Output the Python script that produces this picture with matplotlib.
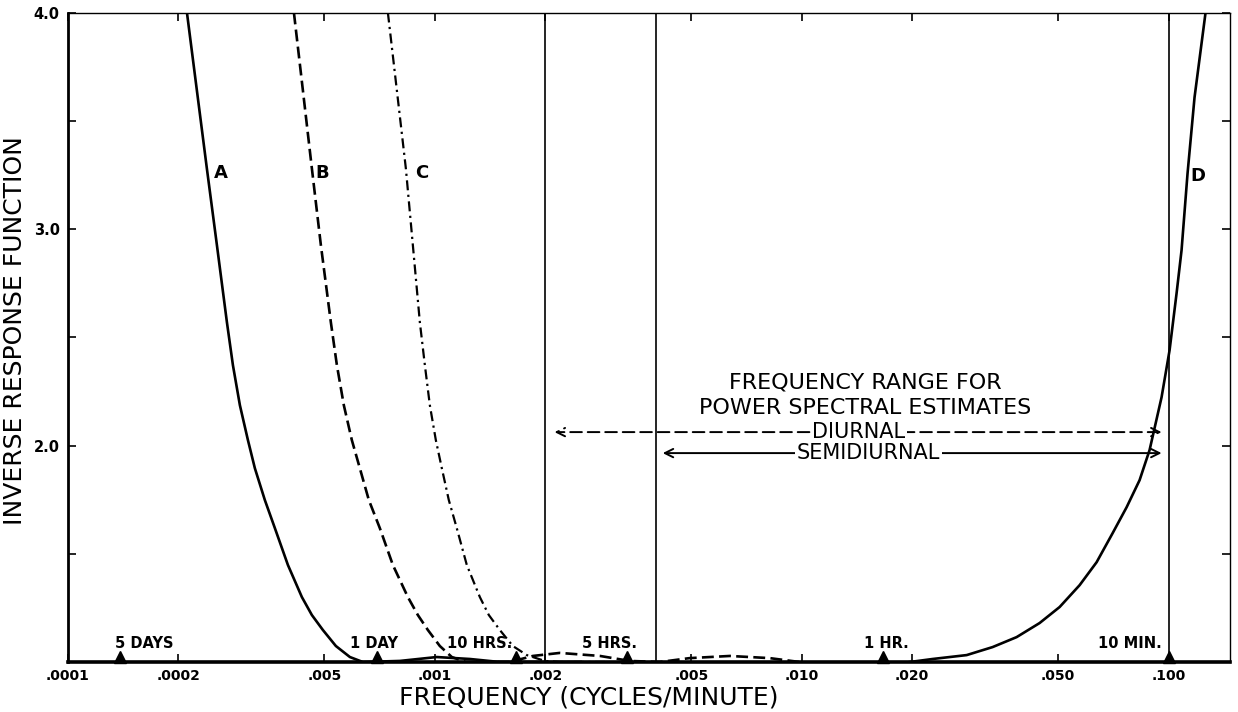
import matplotlib
matplotlib.use("Agg")
import matplotlib.pyplot as plt

# curve A (solid)
a_freq = [2.110e-4, 2.246e-4, 2.391e-4, 2.547e-4, 2.712e-4, 2.816e-4, 2.942e-4, 3.094e-4,
          3.232e-4, 3.441e-4, 3.665e-4, 3.977e-4, 4.341e-4, 4.622e-4, 4.952e-4, 5.373e-4,
          5.868e-4, 6.366e-4, 8.03e-4, 1.012e-3, 1.246e-3, 1.504e-3, 2.5e-3]
a_val = [4.000, 3.640, 3.280, 2.925, 2.569, 2.371, 2.186, 2.025,
         1.895, 1.748, 1.618, 1.448, 1.300, 1.217, 1.148, 1.074,
         1.023, 1.000, 1.005, 1.023, 1.014, 1.000, 1.000]

# curve B (dashed)
b_freq = [4.129e-4, 4.369e-4, 4.622e-4, 4.891e-4, 5.207e-4, 5.408e-4, 5.649e-4, 5.940e-4,
          6.246e-4, 6.609e-4, 7.082e-4, 7.685e-4, 8.443e-4, 8.989e-4, 9.571e-4, 1.0318e-3,
          1.1125e-3, 1.2147e-3, 1.60e-3, 1.85e-3, 2.19e-3, 2.82e-3, 3.4e-3, 4.1e-3,
          4.95e-3, 6.37e-3, 8.18e-3, 9.88e-3]
b_val = [4.000, 3.640, 3.280, 2.925, 2.569, 2.371, 2.186, 2.025,
         1.895, 1.748, 1.618, 1.448, 1.300, 1.217, 1.148, 1.074,
         1.023, 1.000, 1.000, 1.028, 1.042, 1.028, 1.005, 1.000,
         1.018, 1.028, 1.018, 1.000]

# curve C (dash-dot)
c_freq = [7.447e-4, 7.880e-4, 8.337e-4, 8.712e-4, 9.103e-4, 9.394e-4, 9.692e-4, 1.0063e-3,
          1.0449e-3, 1.0917e-3, 1.1478e-3, 1.2223e-3, 1.3265e-3, 1.4034e-3, 1.5035e-3,
          1.6315e-3, 1.7810e-3, 1.9940e-3, 2.1910e-3, 3.0e-3]
c_val = [4.000, 3.640, 3.280, 2.925, 2.569, 2.371, 2.186, 2.025,
         1.895, 1.748, 1.618, 1.448, 1.300, 1.217, 1.148,
         1.074, 1.032, 1.005, 1.000, 1.000]

# curve D (solid, high frequency side)
d_freq = [0.01970, 0.02275, 0.02816, 0.03314, 0.03853, 0.04451, 0.05047, 0.05722,
          0.06366, 0.07038, 0.07685, 0.08337, 0.08876, 0.09570, 0.10063, 0.10515,
          0.10849, 0.11265, 0.11770, 0.12613]
d_val = [1.000, 1.014, 1.032, 1.069, 1.115, 1.180, 1.254, 1.355,
         1.461, 1.595, 1.715, 1.840, 1.979, 2.223, 2.440, 2.703,
         2.902, 3.257, 3.608, 4.000]

# periods marked on the frequency axis
event_names = ["5 DAYS", "1 DAY", "10 HRS.", "5 HRS.", "1 HR.", "10 MIN."]
event_freq = [1 / 7200, 1 / 1440, 1 / 600, 1 / 300, 1 / 60, 1 / 10]

# band limits
band_lines = [0.002, 0.004, 0.1]
diurnal_range = [0.00212, 0.0957]
semidiurnal_range = [0.00418, 0.0957]

xticks = [0.0001, 0.0002, 0.0005, 0.001, 0.002, 0.005, 0.01, 0.02, 0.05, 0.1]
xtick_labels = [".0001", ".0002", ".005", ".001", ".002", ".005", ".010", ".020", ".050", ".100"]
yticks = [1.5, 2.0, 2.5, 3.0, 3.5, 4.0]
ytick_labels = ["", "2.0", "", "3.0", "", "4.0"]

plt.rcParams['font.family'] = ['DejaVu Sans']

fig = plt.figure(figsize=(12.38, 7.12), dpi=100)
ax = fig.add_axes([0.0549, 0.0702, 0.9386, 0.9122])

ax.set_xscale('log')
ax.set_xlim(0.0001, 0.147)
ax.set_ylim(1.0, 4.0)

ax.plot(a_freq, a_val, '-', color='black', lw=1.9)
ax.plot(b_freq, b_val, color='black', lw=1.9, linestyle=(0, (4.5, 2)))
ax.plot(c_freq, c_val, color='black', lw=1.6, linestyle=(0, (4.5, 2, 1, 2)))
ax.plot(d_freq, d_val, '-', color='black', lw=1.9)

for f in band_lines:
  ax.axvline(f, color='black', lw=1.2)

# curve letters
ax.text(0.000250, 3.257, "A", fontsize=13, fontweight='bold', va='center', ha='left')
ax.text(0.000473, 3.257, "B", fontsize=13, fontweight='bold', va='center', ha='left')
ax.text(0.000885, 3.257, "C", fontsize=13, fontweight='bold', va='center', ha='left')
ax.text(0.1145, 3.245, "D", fontsize=13, fontweight='bold', va='center', ha='left')

# triangles + period labels
label_dx = [24, -3, -37, -17, 3, -39]
ax.plot(event_freq, [1.0 + 0.022] * len(event_freq), '^', color='black', ms=8, clip_on=False)
for name, f, dx in zip(event_names, event_freq, label_dx):
  ax.annotate(name, xy=(f, 1.0), xytext=(dx, 19), textcoords='offset pixels',
              ha='center', va='center', fontsize=10.5, fontweight='bold')

# frequency range annotation
ax.text(0.0149, 2.232, "FREQUENCY RANGE FOR\nPOWER SPECTRAL ESTIMATES", ha='center', va='center',
        fontsize=16, linespacing=1.4)
ax.annotate('', xy=(diurnal_range[0], 2.062), xytext=(diurnal_range[1], 2.062),
            arrowprops=dict(arrowstyle='<->,head_length=0.6,head_width=0.3', linestyle=(0, (6, 3)),
                            color='black', lw=1.4, shrinkA=0, shrinkB=0))
ax.annotate('', xy=(semidiurnal_range[0], 1.965), xytext=(semidiurnal_range[1], 1.965),
            arrowprops=dict(arrowstyle='<->,head_length=0.6,head_width=0.3',
                            color='black', lw=1.4, shrinkA=0, shrinkB=0))
ax.text(0.0143, 2.062, "DIURNAL", ha='center', va='center', fontsize=15,
        bbox=dict(facecolor='white', edgecolor='none', pad=1))
ax.text(0.0152, 1.965, "SEMIDIURNAL", ha='center', va='center', fontsize=15,
        bbox=dict(facecolor='white', edgecolor='none', pad=1))

# axes
ax.set_xticks(xticks)
ax.set_xticklabels(xtick_labels, fontsize=10, fontweight='bold')
ax.xaxis.set_minor_locator(matplotlib.ticker.NullLocator())
ax.set_yticks(yticks)
ax.set_yticklabels(ytick_labels, fontsize=10.5, fontweight='bold')
ax.tick_params(which='major', direction='in', top=True, right=True, length=6, width=1.2)
ax.tick_params(axis='x', pad=5)
ax.tick_params(axis='y', pad=6)

ax.spines['bottom'].set_linewidth(2.6)
ax.spines['left'].set_linewidth(2.0)
ax.spines['top'].set_linewidth(1.0)
ax.spines['right'].set_linewidth(1.0)

ax.set_xlabel("FREQUENCY (CYCLES/MINUTE)", fontsize=18, va='center')
ax.xaxis.set_label_coords(0.448, -0.055)
ax.set_ylabel("INVERSE RESPONSE FUNCTION", fontsize=18, va='center')
ax.yaxis.set_label_coords(-0.0456, 0.511)

fig.savefig("out.png", dpi=100)
